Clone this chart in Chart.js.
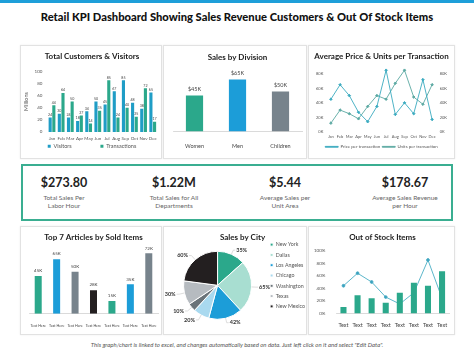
<!DOCTYPE html>
<html><head><meta charset="utf-8">
<script src="https://cdn.jsdelivr.net/npm/chart.js@4"></script>
<style>
html,body{margin:0;padding:0;background:#fff;width:474px;height:355px;overflow:hidden;font-family:Lato,"Open Sans",sans-serif}
#topbar{position:absolute;left:0;top:0;width:474px;height:3px;background:#1e9fd9}
#title{position:absolute;left:0;top:10px;width:474px;text-align:center;font-weight:900;font-size:11.2px;color:#111}
.panel{position:absolute;border:1px solid #e2e2e2;background:#fff;box-shadow:0 0 2px rgba(0,0,0,0.07);overflow:hidden}
.panel canvas{position:absolute;left:0;top:0}
#kpi{position:absolute;left:21px;top:164px;width:428px;height:53px;border:2px solid #3aae91}
.k{position:absolute;top:10px;width:110px;text-align:center}
.kv{font-weight:bold;font-size:12.5px;color:#222;line-height:14px}
.kl{font-size:6.5px;color:#666;line-height:8px;margin-top:4px}
#foot{position:absolute;top:341px;left:0;width:474px;text-align:center;font-style:italic;font-size:6px;color:#555}
</style></head>
<body>
<div id="topbar"></div>
<div id="title">Retail KPI Dashboard Showing Sales Revenue Customers &amp; Out Of Stock Items</div>

<div class="panel" style="left:20px;top:45px;width:140px;height:112px"><canvas id="c1" width="140" height="112"></canvas></div>
<div class="panel" style="left:163px;top:45px;width:142px;height:112px"><canvas id="c2" width="142" height="112"></canvas></div>
<div class="panel" style="left:308px;top:45px;width:145px;height:112px"><canvas id="c3" width="145" height="112"></canvas></div>

<div id="kpi"></div>

<div class="panel" style="left:20px;top:226px;width:140px;height:107px"><canvas id="c4" width="140" height="107"></canvas></div>
<div class="panel" style="left:163px;top:226px;width:142px;height:107px"><canvas id="c5" width="151" height="107"></canvas></div>
<div class="panel" style="left:308px;top:226px;width:145px;height:107px"><canvas id="c6" width="145" height="107"></canvas></div>

<div id="foot">This graph/chart is linked to excel, and changes automatically based on data. Just left click on it and select "Edit Data".</div>

<script>
// ---- data ----
const months = ["Jan","Feb","Mar","Apr","May","Jun","Jul","Aug","Sep","Oct","Nov","Dec"];
const visitors = [24,30,24,18,34,50,45,67,85,48,38,65];
const transactions = [44,64,50,27,14,35,85,24,40,25,72,17];
const customerTicks = [0,20,40,60,80,100];

const divisions = ["Women","Men","Children"];
const divisionSales = [45,65,50];

const pricePerTransaction = [45,65,50,27,14,35,85,24,40,25,72,17];
const unitsPerTransaction = [12,30,25,18,35,50,45,67,85,48,38,65];

const kpiValues = ["$273.80","$1.22M","$5.44","$178.67"];
const kpiLabels = [["Total Sales Per","Labor Hour"],["Total Sales for All","Departments"],["Average  Sales per","Unit Area"],["Average  Sales Revenue","per Hour"]];

const articles = ["Text Here","Text Here","Text Here","Text Here","Text Here","Text Here","Text Here"];
const articleSold = [45,65,50,28,15,35,72];

const cities = ["New York","Dallas","Los Angeles","Chicago","Washington","Texas","New Mexico"];
const citySales = [35,65,42,20,10,30,60];

const stockLabels = ["Text","Text","Text","Text","Text","Text","Text","Text"];
const stockBars = [10,29,24,17,33,49,44,67];
const stockLine = [44,64,50,26,15,33,85,24];

// ---- styles ----
const TEAL="#2ba88b", BLUE="#1c9dd8", GRAY="#77838c", BLACK="#231f20", CYAN="#1f9dc6";
const FF = "Lato, 'Open Sans', sans-serif";
Chart.defaults.font.family = FF;
Chart.defaults.color = "#555";
Chart.defaults.devicePixelRatio = 1;
Chart.defaults.animation = false;

// KPI boxes
const kpi = document.getElementById('kpi');
const kpiCenters = [41,151,262,382];
kpiValues.forEach((v,i)=>{
  const d=document.createElement('div'); d.className='k'; d.style.left=(kpiCenters[i]-55)+'px';
  d.innerHTML='<div class="kv">'+v+'</div><div class="kl">'+kpiLabels[i].join('<br>')+'</div>';
  kpi.appendChild(d);
});

const valueLabels = {
  id:'valueLabels',
  afterDatasetsDraw(chart, args, opts){
    if(!opts || !opts.fmt) return;
    const ctx=chart.ctx; ctx.save();
    ctx.font = (opts.size||5)+'px '+FF; ctx.fillStyle = opts.color||'#444';
    ctx.textAlign='center'; ctx.textBaseline='bottom';
    chart.data.datasets.forEach((ds,i)=>{
      if(ds.type==='line') return;
      const meta=chart.getDatasetMeta(i);
      meta.data.forEach((el,j)=>{ ctx.fillText(opts.fmt(ds.data[j]), el.x, el.y-(opts.off||2)); });
    });
    ctx.restore();
  }
};

const pieLabels = {
  id:'pieLabels',
  afterDatasetsDraw(chart){
    const ctx=chart.ctx, meta=chart.getDatasetMeta(0), data=chart.data.datasets[0].data;
    ctx.save(); ctx.font='bold 5.5px '+FF; ctx.fillStyle='#333'; ctx.strokeStyle='#cfcfcf'; ctx.lineWidth=0.7;
    meta.data.forEach((arc,j)=>{
      const a=(arc.startAngle+arc.endAngle)/2, r=arc.outerRadius;
      const c=Math.cos(a), s=Math.sin(a), right=c>=0;
      const ext = right?4.5:5.5;
      const x0=arc.x+c*r, y0=arc.y+s*r, x1=arc.x+c*(r+ext), y1=arc.y+s*(r+ext);
      const x2=x1+(right?2:-2.5);
      ctx.beginPath(); ctx.moveTo(x0,y0); ctx.lineTo(x1,y1); ctx.lineTo(x2,y1); ctx.stroke();
      ctx.textAlign=right?'left':'right'; ctx.textBaseline='middle';
      ctx.fillText(data[j]+'%', x2+(right?1:-1), y1);
    });
    ctx.restore();
  }
};

function titleOpt(text, top, bottom){
  return {display:true,text:text,color:'#222',font:{size:8,weight:'bold',family:FF},padding:{top:top,bottom:bottom}};
}
const tickFont = {size:4.5,family:FF};
const axisLine = {display:true,color:'#d0d0d0',width:0.8};
const noGrid = {display:false,drawTicks:false};
const defaultLegendLabels = Chart.defaults.plugins.legend.labels.generateLabels;

// Chart 1
new Chart(document.getElementById('c1'),{
  type:'bar',
  data:{labels:months,datasets:[
    {label:'Visitors',data:visitors,backgroundColor:CYAN,categoryPercentage:0.8,barPercentage:0.85},
    {label:'Transactions',data:transactions,backgroundColor:TEAL,categoryPercentage:0.8,barPercentage:0.85}
  ]},
  options:{responsive:false,layout:{padding:{left:2,right:0,top:0,bottom:-1}},
    plugins:{title:titleOpt('Total Customers & Visitors',6,9.5),
      legend:{position:'bottom',labels:{boxWidth:3,boxHeight:3,font:{size:5.5},padding:2,color:'#555',
        generateLabels:ch=>defaultLegendLabels(ch).map((l,i)=>{ if(i===0) l.text=l.text+'                   '; return l; })}},
      tooltip:{enabled:false},valueLabels:{fmt:v=>v,size:3.6,off:1}},
    scales:{
      x:{grid:noGrid,border:{display:false},ticks:{font:tickFont,padding:4.3,maxRotation:0,autoSkip:false},
        afterFit:s=>{ s.height = s.height-4.5; }},
      y:{min:0,max:100,afterBuildTicks:ax=>{ax.ticks=customerTicks.map(v=>({value:v}));},
        grid:noGrid,border:{display:false},ticks:{font:tickFont,padding:5},
        title:{display:true,text:'Millions',font:{size:5.5},padding:0}}
    }},
  plugins:[valueLabels]
});

// Chart 2
new Chart(document.getElementById('c2'),{
  type:'bar',
  data:{labels:divisions,datasets:[{data:divisionSales,backgroundColor:[TEAL,BLUE,GRAY],categoryPercentage:1,barPercentage:0.4}]},
  options:{responsive:false,layout:{padding:{left:9,right:4,top:0,bottom:4}},
    plugins:{title:titleOpt('Sales by Division',7,8),legend:{display:false},tooltip:{enabled:false},
      valueLabels:{fmt:v=>'$'+v+'K',size:5.5,off:3}},
    scales:{
      x:{grid:{display:false},border:axisLine,ticks:{font:{size:5.5},padding:4,color:'#444'}},
      y:{display:false,min:0,max:76}
    }},
  plugins:[valueLabels]
});

// Chart 3
const kfmt = v=>v+'K';
new Chart(document.getElementById('c3'),{
  type:'line',
  data:{labels:months,datasets:[
    {label:'Price per transaction',data:pricePerTransaction,borderColor:'#3aaabf',backgroundColor:'#3aaabf',borderWidth:0.9,pointRadius:1.3,pointStyle:'rectRot',yAxisID:'y'},
    {label:'Units per transaction',data:unitsPerTransaction,borderColor:'#5aa8a2',backgroundColor:'#5aa8a2',borderWidth:0.9,pointRadius:1.3,pointStyle:'rectRot',yAxisID:'y1'}
  ]},
  options:{responsive:false,layout:{padding:{left:4,right:4,top:0,bottom:-1}},
    plugins:{title:titleOpt('Average Price & Units per Transaction',6,5),
      legend:{position:'bottom',labels:{boxWidth:13,boxHeight:0.8,font:{size:4.4},padding:2,color:'#555'}},
      tooltip:{enabled:false}},
    scales:{
      x:{offset:true,grid:noGrid,border:{display:false},ticks:{font:{size:4},padding:3,maxRotation:0,autoSkip:false}},
      y:{min:0,max:90,ticks:{stepSize:10,font:{size:4},padding:3,callback:kfmt},grid:noGrid,border:{display:false}},
      y1:{position:'right',min:0,max:90,ticks:{stepSize:10,font:{size:4},padding:3,callback:kfmt},grid:noGrid,border:{display:false}}
    }}
});

// Chart 4
new Chart(document.getElementById('c4'),{
  type:'bar',
  data:{labels:articles,datasets:[{data:articleSold,backgroundColor:[TEAL,BLUE,GRAY,BLACK,TEAL,BLUE,GRAY],categoryPercentage:1,barPercentage:0.38}]},
  options:{responsive:false,layout:{padding:{left:8,right:3,top:0,bottom:4}},
    plugins:{title:titleOpt('Top 7 Articles by Sold Items',6,4),legend:{display:false},tooltip:{enabled:false},
      valueLabels:{fmt:v=>v+'K',size:4.5,off:3}},
    scales:{
      x:{grid:{display:false},border:axisLine,ticks:{font:{size:3.6},padding:2,maxRotation:0,autoSkip:false,color:'#444'}},
      y:{display:false,min:0,max:80}
    }},
  plugins:[valueLabels]
});

// Chart 5
new Chart(document.getElementById('c5'),{
  type:'pie',
  data:{labels:cities,datasets:[{data:citySales,backgroundColor:[TEAL,'#a8ded1',BLUE,'#a9d9ef','#6a7379','#b6bbc0',BLACK],borderColor:'#fff',borderWidth:1,radius:34}]},
  options:{responsive:false,layout:{padding:{left:6,right:0,top:0,bottom:10}},
    plugins:{title:titleOpt('Sales by City',6,4),
      legend:{position:'right',labels:{boxWidth:3,boxHeight:3,font:{size:5.3},padding:5,color:'#555'}},
      tooltip:{enabled:false}}},
  plugins:[pieLabels]
});

// Chart 6
new Chart(document.getElementById('c6'),{
  type:'bar',
  data:{labels:stockLabels,datasets:[
    {type:'bar',data:stockBars,backgroundColor:TEAL,categoryPercentage:1,barPercentage:0.43,order:0},
    {type:'line',data:stockLine,borderColor:'#4aaec4',backgroundColor:'#3a9fc0',borderWidth:0.9,pointRadius:1.4,order:1}
  ]},
  options:{responsive:false,layout:{padding:{left:2,right:0,top:0,bottom:4}},
    plugins:{title:titleOpt('Out of Stock Items',6,8),legend:{display:false},tooltip:{enabled:false}},
    scales:{
      x:{grid:{display:false},border:axisLine,ticks:{font:{size:5.5},padding:1,maxRotation:0,autoSkip:false,color:'#444'}},
      y:{min:0,max:100,ticks:{stepSize:20,font:{size:4.5},padding:3,callback:v=>v+'%'},grid:{display:false},border:{display:false}}
    }}
});
</script>
</body></html>
